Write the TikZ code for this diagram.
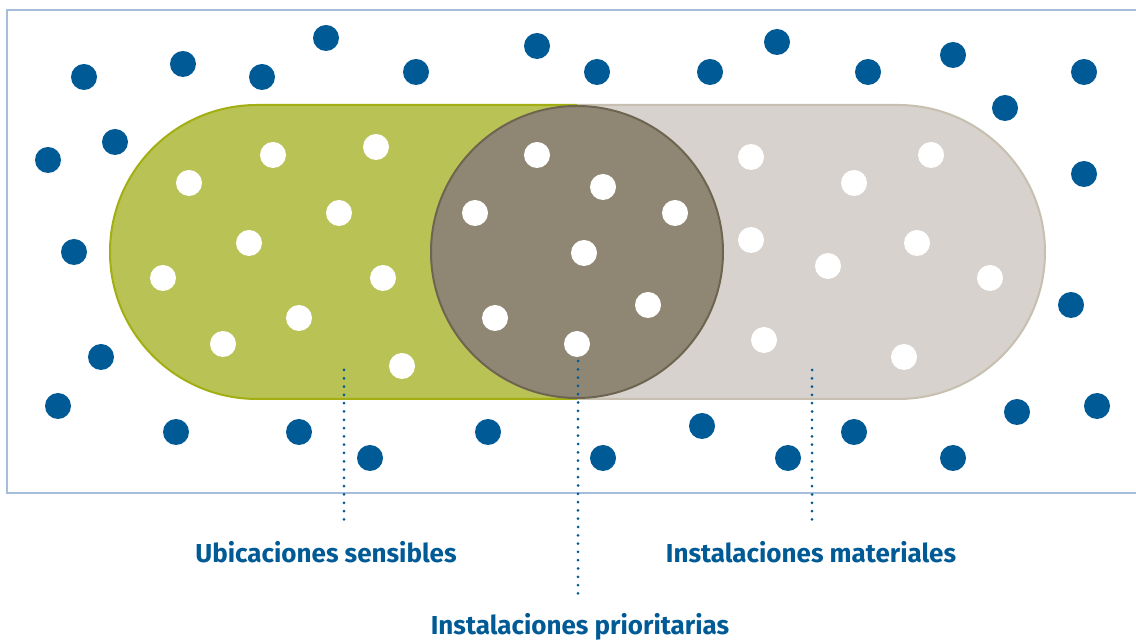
\documentclass[tikz,border=0pt]{standalone}
\usepackage{fontspec}
\setsansfont{Fira Sans}
\usetikzlibrary{positioning}
\definecolor{dotblue}{HTML}{005A96}
\definecolor{framecol}{HTML}{A7BDDC}
\definecolor{sensgreen}{HTML}{B9C255}
\definecolor{sensedge}{HTML}{A3AE12}
\definecolor{matgray}{HTML}{D7D2CD}
\definecolor{matedge}{HTML}{C7C0B0}
\definecolor{priofill}{HTML}{8F8774}
\definecolor{prioedge}{HTML}{6D6550}
\begin{document}
\begin{tikzpicture}[x=0.5pt,y=-0.5pt,
  bdot/.style={circle,fill=dotblue,minimum size=13pt,inner sep=0pt},
  wdot/.style={circle,fill=white,minimum size=13pt,inner sep=0pt},
  lbl/.style={font=\sffamily\bfseries\fontsize{13}{15}\selectfont,text=dotblue,inner sep=0pt,anchor=base},
  leader/.style={dotblue,line width=1.5pt,line cap=round,dash pattern=on 0pt off 4.15pt}
]
  \useasboundingbox (0,0) rectangle (1136,640);
  % frame
  \draw[framecol,line width=0.8pt] (1200,10) -- (7,10) -- (7,493) -- (1200,493);

  % outer dots
  \foreach \x/\y [count=\i] in {84/77,183/64,262/77,326/38,416/72,537/46,597/72,710/72,777/42,
      868/72,953/55,1084/72,1005/108,48/160,115/142,74/252,101/357,58/406,176/432,299/432,
      370/458,488/432,603/458,702/426,788/458,854/432,953/458,1017/412,1097/406,1084/174,1071/305}
    \node[bdot] (b\i) at (\x,\y) {};

  % sensitive locations / material installations
  \begin{scope}
    \clip (0,0) rectangle (577,640);
    \filldraw[fill=sensgreen,draw=sensedge,line width=1pt,rounded corners=73.5pt] (110,105) rectangle (1045,399);
  \end{scope}
  \begin{scope}
    \clip (577,0) rectangle (1136,640);
    \filldraw[fill=matgray,draw=matedge,line width=1pt,rounded corners=73.5pt] (110,105) rectangle (1045,399);
  \end{scope}

  % priority installations
  \node[circle,fill=priofill,draw=prioedge,line width=1pt,minimum size=146pt,inner sep=0pt] (prio) at (577,252) {};

  % inner dots
  \foreach \x/\y [count=\i] in {189/183,273/155,376/147,339/213,249/243,163/278,383/278,299/318,223/344,402/366,
      537/155,603/187,475/213,675/213,584/253,495/318,648/305,577/344,
      751/157,931/155,854/183,751/240,917/243,828/266,990/278,764/340,904/357}
    \node[wdot] (w\i) at (\x,\y) {};

  % labels
  \node[lbl] (sens) at (326,563) {Ubicaciones sensibles};
  \node[lbl] (mat) at (811,563) {Instalaciones materiales};
  \node[lbl] (pri) at (580,635) {Instalaciones prioritarias};

  \coordinate (senstop) at (344,370);
  \coordinate (pritop) at (578,361);
  \coordinate (mattop) at (812,370);
  \draw[leader,shorten >=11pt] (senstop) -- (senstop |- sens.north);
  \draw[leader,shorten >=9pt] (pritop) -- (pritop |- pri.north);
  \draw[leader,shorten >=11pt] (mattop) -- (mattop |- mat.north);
\end{tikzpicture}
\end{document}
